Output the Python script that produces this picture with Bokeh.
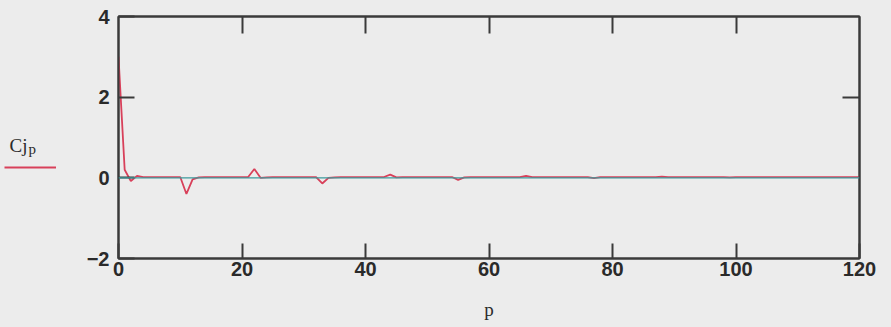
from bokeh.plotting import figure
from bokeh.models import (LinearAxis, FixedTicker, Range1d, Label, Legend, LegendItem,
                          Span, ColumnDataSource)
from bokeh.layouts import row
from bokeh.embed import file_html
from bokeh.resources import INLINE

# ---- data ----
p_vals = list(range(0, 121))
cj_vals = [
    3.0, 0.20, -0.08, 0.05, 0.02, 0.02, 0.02, 0.02, 0.02, 0.02,   # 0-9
    0.02, -0.40, -0.04, 0.01, 0.02, 0.02, 0.02, 0.02, 0.02, 0.02,  # 10-19
    0.02, 0.02, 0.22, 0.00, 0.01, 0.02, 0.02, 0.02, 0.02, 0.02,    # 20-29
    0.02, 0.02, 0.02, -0.14, 0.00, 0.01, 0.02, 0.02, 0.02, 0.02,   # 30-39
    0.02, 0.02, 0.02, 0.02, 0.08, 0.01, 0.02, 0.02, 0.02, 0.02,    # 40-49
    0.02, 0.02, 0.02, 0.02, 0.02, -0.05, 0.01, 0.02, 0.02, 0.02,   # 50-59
    0.02, 0.02, 0.02, 0.02, 0.02, 0.02, 0.05, 0.02, 0.02, 0.02,    # 60-69
    0.02, 0.02, 0.02, 0.02, 0.02, 0.02, 0.02, -0.01, 0.02, 0.02,   # 70-79
    0.02, 0.02, 0.02, 0.02, 0.02, 0.02, 0.02, 0.02, 0.03, 0.02,    # 80-89
    0.02, 0.02, 0.02, 0.02, 0.02, 0.02, 0.02, 0.02, 0.02, 0.01,    # 90-99
    0.02, 0.02, 0.02, 0.02, 0.02, 0.02, 0.02, 0.02, 0.02, 0.02,    # 100-109
    0.02, 0.02, 0.02, 0.02, 0.02, 0.02, 0.02, 0.02, 0.02, 0.02,    # 110-119
    0.02,                                                          # 120
]
x_ticks = [0, 20, 40, 60, 80, 100, 120]
y_ticks = [-2, 0, 2, 4]
y_tick_labels = {-2: "\u22122", 0: "0", 2: "2", 4: "4"}
inner_x_ticks = [20, 40, 60, 80, 100]
inner_y_ticks = [2]
x_range = (0, 120)
y_range = (-2, 4)
legend_label = "Cj"
legend_sub = "p"
x_title = "p"

BG = "#ececec"
FRAME = "#3a3a3a"
RED = "#d8405a"
TXT = "#2a2a2a"

# ---------- main plot ----------
p = figure(width=808, height=327, output_backend="svg", toolbar_location=None,
           x_range=Range1d(*x_range), y_range=Range1d(*y_range),
           x_axis_location=None, y_axis_location=None,
           min_border_left=34, min_border_right=32, min_border_top=16, min_border_bottom=69,
           background_fill_color=BG, border_fill_color=BG)
p.grid.visible = False
p.outline_line_color = FRAME
p.outline_line_width = 2

def mk_axis(ticks, labels=True, tick_len=16, overrides=None):
    ax = LinearAxis(ticker=FixedTicker(ticks=ticks))
    ax.axis_line_color = FRAME
    ax.axis_line_width = 2
    ax.major_tick_line_color = FRAME
    ax.major_tick_line_width = 2
    ax.major_tick_in = tick_len
    ax.major_tick_out = 0
    ax.minor_tick_line_color = None
    if labels:
        ax.major_label_text_font = "Liberation Sans"
        ax.major_label_text_font_size = "20px"
        ax.major_label_text_font_style = "bold"
        ax.major_label_text_color = TXT
    else:
        ax.major_label_overrides = {t: "" for t in ticks}
        ax.major_label_text_font_size = "1px"
        ax.major_label_standoff = 0
    if overrides:
        ax.major_label_overrides = overrides
    return ax

left = mk_axis(y_ticks, overrides=y_tick_labels)
left.major_label_standoff = 9
p.add_layout(left, "left")

bottom = mk_axis(x_ticks, tick_len=15)
bottom.major_label_standoff = 3
bottom.axis_label = x_title
bottom.axis_label_text_font = "Liberation Serif"
bottom.axis_label_text_font_size = "19px"
bottom.axis_label_text_font_style = "normal"
bottom.axis_label_text_color = TXT
bottom.axis_label_standoff = 20
p.add_layout(bottom, "below")

top = mk_axis(inner_x_ticks, labels=False, tick_len=17)
p.add_layout(top, "above")
right = mk_axis(inner_y_ticks, labels=False, tick_len=17)
p.add_layout(right, "right")

# zero line
p.add_layout(Span(location=0, dimension="width", line_color="#3c9a9c", line_width=1.2))

src = ColumnDataSource(dict(p=p_vals, cj=cj_vals))
r = p.line("p", "cj", source=src, line_color=RED, line_width=1.8)

# ---------- legend panel (left strip; its frame is aligned with the main frame) ----------
lg = figure(width=83, height=327, output_backend="svg", toolbar_location=None,
            x_range=Range1d(-1000, -900), y_range=Range1d(-1000, -900),
            x_axis_location=None, y_axis_location=None,
            min_border=0, background_fill_color=BG, border_fill_color=BG,
            outline_line_color=None)
lg.grid.visible = False
# same series, kept out of this strip's visible range: only its legend sample shows
sample = lg.line("p", "cj", source=src, line_color=RED, line_width=1.8)
legend = Legend(items=[LegendItem(label=" ", renderers=[sample])],
                location=(4, 87), glyph_width=52, glyph_height=8,
                background_fill_alpha=0, border_line_color=None,
                padding=0, margin=0, label_standoff=0, label_width=1,
                label_text_font_size="1px")
lg.add_layout(legend, "center")
lg.add_layout(Label(x=9, y=113, x_units="screen", y_units="screen", text=legend_label,
                    text_baseline="alphabetic",
                    text_font="Liberation Serif", text_font_size="19px", text_color=TXT))
lg.add_layout(Label(x=28, y=110, x_units="screen", y_units="screen", text=legend_sub,
                    text_baseline="alphabetic",
                    text_font="Liberation Serif", text_font_size="15px", text_color=TXT))

layout = row(lg, p, spacing=0, styles={"background-color": BG})
open("out.html", "w").write(file_html(layout, INLINE))
